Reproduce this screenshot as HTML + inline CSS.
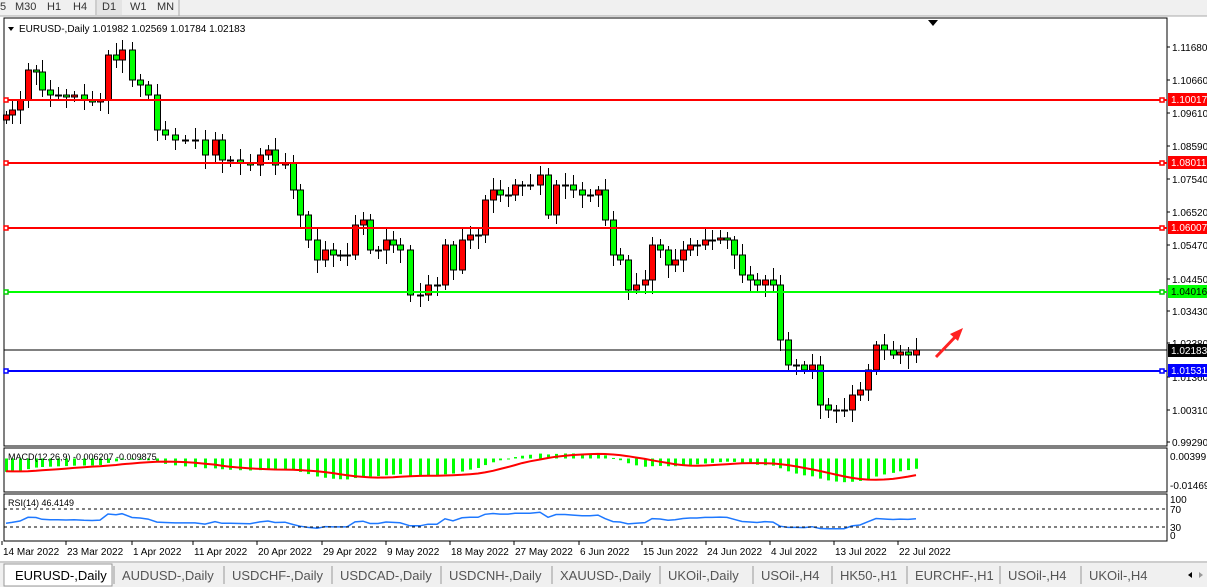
<!DOCTYPE html>
<html><head><meta charset="utf-8"><style>
body{margin:0;width:1207px;height:587px;overflow:hidden;background:#fff;font-family:"Liberation Sans",sans-serif;}
svg{position:absolute;left:0;top:0}
</style></head><body>
<svg id="s" width="1207" height="587" xmlns="http://www.w3.org/2000/svg" font-family="Liberation Sans, sans-serif">
<rect x="0" y="0" width="1207" height="16" fill="#f0f0f0"/>
<g font-size="11" fill="#333"><text x="0" y="10">5</text><text x="15" y="10">M30</text><text x="47" y="10">H1</text><text x="73" y="10">H4</text>
<line x1="96" y1="0" x2="96" y2="15" stroke="#aaa"/><rect x="97" y="0" width="25" height="15" fill="#e4e4e4"/><text x="102" y="10">D1</text><text x="130" y="10">W1</text><text x="157" y="10">MN</text><line x1="179" y1="0" x2="179" y2="16" stroke="#aaa"/></g>
<line x1="0" y1="16" x2="1207" y2="16" stroke="#aaa"/>
<rect x="4" y="18" width="1163" height="428" fill="none" stroke="#000"/>
<rect x="4" y="448" width="1163" height="44" fill="none" stroke="#000"/>
<rect x="4" y="494" width="1163" height="47" fill="none" stroke="#000"/>
<polygon points="928,20 938,20 933,26" fill="#000"/>
<polygon points="8,27 14,27 11,31" fill="#000"/>
<text x="19" y="32" font-size="10">EURUSD-,Daily  1.01982 1.02569 1.01784 1.02183</text>
<g id="cand"></g>
<line x1="4" y1="350" x2="1167" y2="350" stroke="#000" stroke-width="1"/>
<g stroke-width="2"><line x1="4" y1="100" x2="1167" y2="100" stroke="#f00"/><line x1="4" y1="163" x2="1167" y2="163" stroke="#f00"/><line x1="4" y1="228" x2="1167" y2="228" stroke="#f00"/><line x1="4" y1="292" x2="1167" y2="292" stroke="#0f0"/><line x1="4" y1="371" x2="1167" y2="371" stroke="#00f"/></g>
<g fill="#fff" stroke-width="1.5"><rect x="4" y="98" width="4" height="4" stroke="#f00"/><rect x="1160" y="98" width="4" height="4" stroke="#f00"/><rect x="4" y="161" width="4" height="4" stroke="#f00"/><rect x="1160" y="161" width="4" height="4" stroke="#f00"/><rect x="4" y="226" width="4" height="4" stroke="#f00"/><rect x="1160" y="226" width="4" height="4" stroke="#f00"/><rect x="4" y="290" width="4" height="4" stroke="#0c0"/><rect x="1160" y="290" width="4" height="4" stroke="#0c0"/><rect x="4" y="369" width="4" height="4" stroke="#00f"/><rect x="1160" y="369" width="4" height="4" stroke="#00f"/></g>
<g font-size="10" fill="#000" id="ax"></g>
<rect x="1168" y="93" width="39" height="13" fill="#f00"/><text x="1171" y="103" font-size="10" fill="#fff">1.10017</text>
<rect x="1168" y="156" width="39" height="13" fill="#f00"/><text x="1171" y="166" font-size="10" fill="#fff">1.08011</text>
<rect x="1168" y="221" width="39" height="13" fill="#f00"/><text x="1171" y="231" font-size="10" fill="#fff">1.06007</text>
<rect x="1168" y="285" width="39" height="13" fill="#0f0"/><text x="1171" y="295" font-size="10" fill="#000">1.04016</text>
<rect x="1168" y="344" width="39" height="13" fill="#000"/><text x="1171" y="354" font-size="10" fill="#fff">1.02183</text>
<rect x="1168" y="364" width="39" height="13" fill="#00f"/><text x="1171" y="374" font-size="10" fill="#fff">1.01531</text>
<g id="macd"></g><g id="rsi"></g>
<text x="8" y="460" font-size="9">MACD(12,26,9) -0.006207 -0.009875</text>
<text x="8" y="506" font-size="9">RSI(14) 46.4149</text>
<g stroke="#000" stroke-dasharray="3,3"><line x1="4" y1="509" x2="1167" y2="509"/><line x1="4" y1="527" x2="1167" y2="527"/></g>
<g font-size="10"><text x="1170" y="460">0.00399</text><text x="1170" y="489">-0.01469</text><text x="1170" y="503">100</text><text x="1170" y="513">70</text><text x="1170" y="531">30</text><text x="1170" y="539">0</text></g>
<g font-size="10" id="dates"></g>
<rect x="0" y="561" width="1207" height="26" fill="#f0f0f0"/><line x1="0" y1="562" x2="1207" y2="562" stroke="#aaa"/>
<rect x="4" y="564" width="108" height="22" fill="#fff" stroke="#999"/>
<g font-size="13" fill="#333" id="tabs"></g>
<path d="M936 357 L958 334" stroke="#f22" stroke-width="3"/><polygon points="963,328 950,334 958,341" fill="#f22"/>
</svg>
<script>
const NS="http://www.w3.org/2000/svg";
function el(p,t,a,txt){const e=document.createElementNS(NS,t);for(const k in a)e.setAttribute(k,a[k]);if(txt!==undefined)e.textContent=txt;document.getElementById(p).appendChild(e);return e;}
const pts=[[6,115],[12,110],[20,100],[28,70],[36,72],[42,90],[50,95],[58,95],[66,97],[74,95],[84,100],[92,102],[100,100],[108,55],[116,60],[122,50],[132,80],[140,85],[148,95],[157,130],[165,135],[175,140],[185,140],[195,140],[205,155],[215,140],[222,160],[230,160],[240,163],[250,165],[260,155],[268,150],[275,165],[285,163],[293,190],[300,215],[308,240],[317,260],[325,250],[333,255],[340,255],[347,255],[355,225],[363,220],[370,250],[378,250],[386,240],[393,245],[400,250],[410,295],[420,295],[428,285],[437,285],[445,245],[453,270],[462,240],[470,235],[478,235],[485,200],[493,190],[500,195],[508,195],[515,185],[522,185],[530,185],[540,175],[548,215],[556,185],[565,185],[573,190],[582,195],[590,195],[598,190],[605,220],[613,255],[620,260],[628,290],[636,285],[645,280],[652,245],[660,250],[668,265],[675,260],[683,250],[690,245],[697,245],[705,240],[712,240],[720,238],[727,240],[734,255],[742,275],[750,280],[757,285],[765,280],[773,285],[780,340],[788,365],[796,365],[804,370],[812,365],[820,405],[828,410],[836,410],[844,410],[852,395],[860,390],[868,370],[876,345],[884,350],[893,355],[900,352],[908,355],[916,350]];
let prev=120;const closes=[];
pts.forEach((p,i)=>{const x=p[0],c=p[1],o=prev;const top=Math.min(o,c),bot=Math.max(o,c);const hi=top-4-(i*7%9),lo=bot+4+(i*5%11);
el("cand","line",{x1:x+.5,y1:hi,x2:x+.5,y2:lo,stroke:"#000"});
const up=c<o;el("cand","rect",{x:x-2.5,y:top,width:6,height:Math.max(1,bot-top),fill:up?"#f00":"#0f0",stroke:"#000","stroke-width":1});
prev=c;closes.push(1.1168-(c-47)/3188);});
// warmup: prior ~40 bars declining from 1.145 to 1.097 with noise
const W=40,warm=[];for(let i=0;i<W;i++){warm.push(1.145-0.048*i/W+0.004*Math.sin(i*1.7));}
const all=warm.concat(closes);
function ema(a,n){const k=2/(n+1);let r=[],e=a[0];a.forEach(v=>{e=v*k+e*(1-k);r.push(e)});return r;}
const e12=ema(all,12),e26=ema(all,26);const mA=all.map((v,i)=>e12[i]-e26[i]);
const sA=mA.map((v,i)=>{const s=mA.slice(Math.max(0,i-8),i+1);return s.reduce((a,b)=>a+b)/s.length});
const m=mA.slice(W),sig=sA.slice(W);
const Z=458.5,S=1713;let sp="";
pts.forEach((p,i)=>{const y=Z-m[i]*S;el("macd","rect",{x:p[0]-1,y:Math.min(Z,y),width:3,height:Math.max(1,Math.abs(y-Z)),fill:"#0f0"});sp+=(i?"L":"M")+p[0]+" "+(Z-sig[i]*S).toFixed(1);});
el("macd","path",{d:sp,stroke:"#f00","stroke-width":2,fill:"none"});
// RSI
let ag=0,al=0,rp="";
all.forEach((v,i)=>{if(i==0)return;const d=all[i]-all[i-1];const g=Math.max(d,0),l=Math.max(-d,0);
if(i<=14){ag+=g/14;al+=l/14;}else{ag=(ag*13+g)/14;al=(al*13+l)/14;}
if(i<W)return;const r=al==0?100:100-100/(1+ag/al);const y=535-r*0.36;const x=pts[i-W][0];rp+=(rp?"L":"M")+x+" "+y.toFixed(1);});
el("rsi","path",{d:rp,stroke:"#1e78ff","stroke-width":1.5,fill:"none"});
[["1.11680",47],["1.10660",80],["1.09610",113],["1.08590",146],["1.07540",179],["1.06520",212],["1.05470",245],["1.04450",279],["1.03430",311],["1.02380",343],["1.01360",377],["1.00310",410],["0.99290",442]].forEach(a=>{el("ax","text",{x:1172,y:a[1]+4},a[0]);el("ax","line",{x1:1167,y1:a[1],x2:1170,y2:a[1],stroke:"#000"});});
[["14 Mar 2022",3],["23 Mar 2022",67],["1 Apr 2022",133],["11 Apr 2022",194],["20 Apr 2022",258],["29 Apr 2022",323],["9 May 2022",387],["18 May 2022",451],["27 May 2022",515],["6 Jun 2022",580],["15 Jun 2022",643],["24 Jun 2022",707],["4 Jul 2022",771],["13 Jul 2022",835],["22 Jul 2022",899]].forEach(a=>{el("dates","text",{x:a[1],y:555},a[0]);el("dates","line",{x1:a[1]-1,y1:541,x2:a[1]-1,y2:545,stroke:"#000"});});
[["EURUSD-,Daily",15],["AUDUSD-,Daily",122],["USDCHF-,Daily",232],["USDCAD-,Daily",340],["USDCNH-,Daily",449],["XAUUSD-,Daily",560],["UKOil-,Daily",668],["USOil-,H4",761],["HK50-,H1",840],["EURCHF-,H1",915],["USOil-,H4",1008],["UKOil-,H4",1089]].forEach((a,i)=>{el("tabs","text",{x:a[1],y:580,fill:i?"#555":"#000"},a[0]);if(i)el("tabs","line",{x1:a[1]-8,y1:566,x2:a[1]-8,y2:584,stroke:"#999"});});
el("tabs","polygon",{points:"1188,575 1192,572 1192,578",fill:"#000"});el("tabs","polygon",{points:"1203,575 1199,572 1199,578",fill:"#999"});
</script>
</body></html>
